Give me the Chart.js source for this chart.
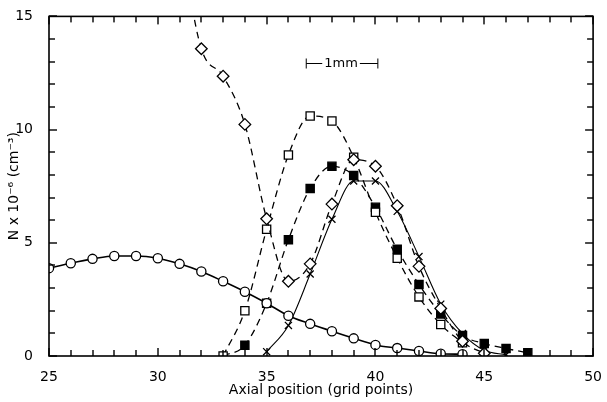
<!DOCTYPE html>
<html>
<head>
<meta charset="utf-8">
<script src="https://cdn.jsdelivr.net/npm/chart.js@4"></script>
<style>
html,body{margin:0;padding:0;background:#fff;}
#c{display:block;}
</style>
</head>
<body>
<canvas id="c" width="607" height="402"></canvas>
<script>
// ---- data ----
const circleX   = [25,26,27,28,29,30,31,32,33,34,35,36,37,38,39,40,41,42,43,44];
const circleY   = [3.88,4.10,4.29,4.42,4.42,4.32,4.07,3.73,3.30,2.84,2.33,1.78,1.42,1.09,0.78,0.49,0.35,0.22,0.10,0.08];

const diamondX  = [31,32,33,34,35,36,37,38,39,40,41,42,43,44,45];
const diamondY  = [18.5,13.57,12.36,10.23,6.06,3.30,4.07,6.71,8.67,8.38,6.64,3.96,2.10,0.65,0.12];

const openSqX   = [33,34,35,36,37,38,39,40,41,42,43,44];
const openSqY   = [0.0,2.0,5.6,8.88,10.6,10.38,8.78,6.35,4.32,2.61,1.39,0.58];

const filledSqX = [33,34,35,36,37,38,39,40,41,42,43,44,45,46,47];
const filledSqY = [0.0,0.48,2.33,5.14,7.40,8.38,7.97,6.57,4.71,3.16,1.86,0.90,0.55,0.33,0.14];

const crossX    = [35,36,37,38,39,40,41,42,43,44,45,46];
const crossY    = [0.19,1.35,3.62,6.04,7.73,7.73,6.39,4.39,2.29,0.99,0.25,0.05];

const xTickLabels = [25,30,35,40,45,50];
const yTickLabels = [0,5,10,15];
const scaleBarX = [36.82, 40.11];
const scaleBarY = 12.94;
const scaleBarText = '1mm';

function pts(xs, ys){ return xs.map((x,i)=>({x:x, y:ys[i]})); }

const FONT = 'DejaVu Sans';

const frameTicks = {
  id:'frameTicks',
  afterDraw(chart){
    const ctx = chart.ctx;
    const ca = chart.chartArea;
    const xs = chart.scales.x, ys = chart.scales.y;
    const left = ca.left, right = ca.right, top = ca.top, bottom = ca.bottom;
    ctx.save();
    ctx.setLineDash([]);
    ctx.fillStyle = '#000';
    ctx.strokeStyle = '#000';
    ctx.lineWidth = 1.6;
    ctx.strokeRect(left, top, right-left, bottom-top);
    // inward tick marks every grid unit
    for (let v = 25; v <= 50; v++) {
      const px = Math.round(xs.getPixelForValue(v));
      const len = (v % 5 === 0) ? 8 : 6;
      ctx.fillRect(px - 0.7, bottom - len, 1.4, len);
      ctx.fillRect(px - 0.7, top, 1.4, len);
    }
    for (let v = 0; v <= 15; v++) {
      const py = Math.round(ys.getPixelForValue(v));
      const len = (v % 5 === 0) ? 8 : 6;
      ctx.fillRect(left, py - 0.7, len, 1.4);
      ctx.fillRect(right - len, py - 0.7, len, 1.4);
    }
    // scale bar annotation
    const x0 = xs.getPixelForValue(scaleBarX[0]);
    const x1 = xs.getPixelForValue(scaleBarX[1]);
    const yb = Math.round(ys.getPixelForValue(scaleBarY)) + 0.5;
    ctx.font = '13px ' + FONT;
    ctx.textAlign = 'center';
    ctx.textBaseline = 'middle';
    const tc = (x0 + x1) / 2 - 1;
    const tw = ctx.measureText(scaleBarText).width;
    ctx.fillText(scaleBarText, tc, yb);
    ctx.lineWidth = 1;
    ctx.beginPath();
    ctx.moveTo(x0, yb - 5); ctx.lineTo(x0, yb + 5);
    ctx.moveTo(x1, yb - 5); ctx.lineTo(x1, yb + 5);
    ctx.moveTo(x0, yb); ctx.lineTo(tc - tw/2 - 2, yb);
    ctx.moveTo(tc + tw/2 + 2, yb); ctx.lineTo(x1, yb);
    ctx.stroke();
    ctx.restore();
  }
};

const common = { borderColor:'#000', pointBorderColor:'#000', pointBorderWidth:1.3, cubicInterpolationMode:'monotone', fill:false };
const DASH = [7,5];

new Chart(document.getElementById('c'), {
  type:'line',
  data:{
    datasets:[
      Object.assign({}, common, {
        label:'circles', data:pts(circleX, circleY), borderWidth:1.6,
        pointStyle:'circle', pointRadius:4.6, pointBackgroundColor:'#fff', order:1
      }),
      Object.assign({}, common, {
        label:'diamonds', data:pts(diamondX, diamondY), borderWidth:1.3, borderDash:DASH,
        pointStyle:'rectRot', pointRadius:diamondX.map(v=> v < 32 ? 0 : 5.8), pointBackgroundColor:'#fff', order:2
      }),
      Object.assign({}, common, {
        label:'open squares', data:pts(openSqX, openSqY), borderWidth:1.3, borderDash:DASH,
        pointStyle:'rect', pointRadius:5.8, pointBackgroundColor:'#fff', order:3
      }),
      Object.assign({}, common, {
        label:'filled squares', data:pts(filledSqX, filledSqY), borderWidth:1.3, borderDash:DASH,
        pointStyle:'rect', pointRadius:filledSqX.map(v=> v === 33 ? 0 : 5.8), pointBackgroundColor:'#000', order:4
      }),
      Object.assign({}, common, {
        label:'crosses', data:pts(crossX, crossY), borderWidth:1.1,
        pointStyle:'crossRot', pointRadius:5, pointBackgroundColor:'#000', pointBorderWidth:1.3, order:5
      })
    ]
  },
  options:{
    responsive:false,
    animation:false,
    devicePixelRatio:1,
    layout:{ padding:{ top:11, right:7.5, left:0, bottom:0 } },
    plugins:{ legend:{display:false}, tooltip:{enabled:false} },
    scales:{
      x:{
        type:'linear', min:25, max:50,
        grid:{ display:false }, border:{ display:false },
        afterBuildTicks(s){ s.ticks = xTickLabels.map(v=>({value:v})); },
        afterFit(s){ s.height = 46; },
        ticks:{ padding:5, color:'#000', font:{ family:FONT, size:14 }, maxRotation:0, autoSkip:false },
        title:{ display:true, text:'Axial position (grid points)', color:'#000',
                font:{ family:FONT, size:14 }, padding:{ top:0, bottom:3 } }
      },
      y:{
        type:'linear', min:0, max:15,
        grid:{ display:false }, border:{ display:false },
        afterBuildTicks(s){ s.ticks = yTickLabels.map(v=>({value:v})); },
        afterFit(s){ s.width = 49; },
        ticks:{ padding:8, color:'#000', font:{ family:FONT, size:14 } },
        title:{ display:true, text:'N x 10\u207B\u2076 (cm\u207B\u00B3)', color:'#000',
                font:{ family:FONT, size:14 }, padding:{ top:6, bottom:0 } }
      }
    }
  },
  plugins:[frameTicks]
});
</script>
</body>
</html>
